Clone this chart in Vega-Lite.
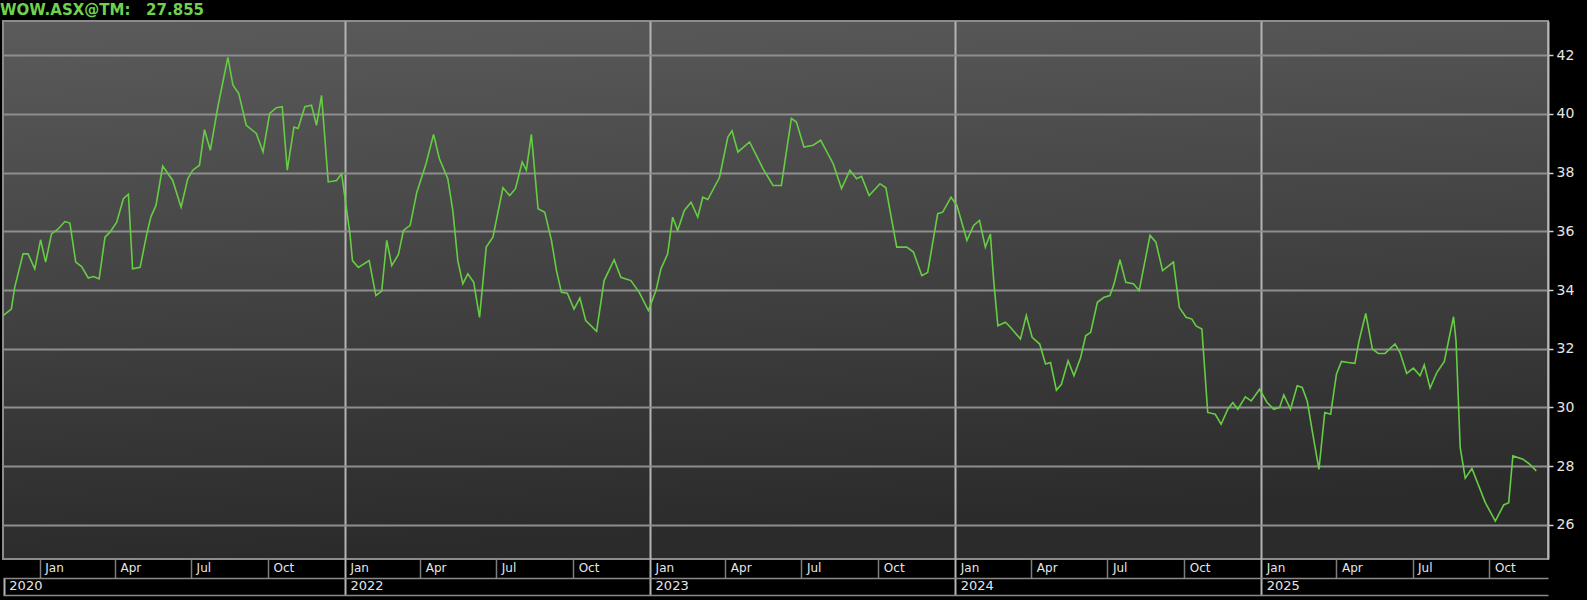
{
  "$schema": "https://vega.github.io/schema/vega-lite/v6.json",
  "autosize": "none",
  "width": 1545,
  "height": 538,
  "padding": {"left": 3, "top": 21, "right": 39, "bottom": 41},
  "background": "#000000",
  "view": {
    "stroke": "#8c8c8c",
    "strokeWidth": 2,
    "fill": {"gradient": "linear", "x1": 0, "y1": 0, "x2": 0.15, "y2": 1, "stops": [{"offset": 0, "color": "#5b5b5b"}, {"offset": 1, "color": "#2b2b2b"}]}
  },
  "title": {
    "text": "WOW.ASX@TM:\u00a0\u00a0\u00a027.855",
    "anchor": "start",
    "frame": "group",
    "color": "#6fd24f",
    "font": "DejaVu Sans",
    "fontSize": 15,
    "fontWeight": "bold",
    "offset": 3,
    "dx": -3
  },
  "data": {
    "values": [
      {"d": "2020-11-18", "v": 33.13}, {"d": "2020-11-28", "v": 33.35}, {"d": "2020-12-02", "v": 34.09}, {"d": "2020-12-12", "v": 35.23},
      {"d": "2020-12-18", "v": 35.23}, {"d": "2020-12-26", "v": 34.72}, {"d": "2021-01-02", "v": 35.71}, {"d": "2021-01-08", "v": 34.95},
      {"d": "2021-01-15", "v": 35.91}, {"d": "2021-01-23", "v": 36.08}, {"d": "2021-01-31", "v": 36.33}, {"d": "2021-02-06", "v": 36.28},
      {"d": "2021-02-13", "v": 34.95}, {"d": "2021-02-20", "v": 34.8}, {"d": "2021-02-28", "v": 34.41}, {"d": "2021-03-06", "v": 34.46},
      {"d": "2021-03-13", "v": 34.38}, {"d": "2021-03-20", "v": 35.8}, {"d": "2021-03-26", "v": 35.97}, {"d": "2021-04-03", "v": 36.31},
      {"d": "2021-04-11", "v": 37.11}, {"d": "2021-04-17", "v": 37.26}, {"d": "2021-04-22", "v": 34.72}, {"d": "2021-05-01", "v": 34.77},
      {"d": "2021-05-09", "v": 35.91}, {"d": "2021-05-14", "v": 36.5}, {"d": "2021-05-20", "v": 36.88}, {"d": "2021-05-28", "v": 38.22},
      {"d": "2021-06-09", "v": 37.73}, {"d": "2021-06-19", "v": 36.82}, {"d": "2021-06-27", "v": 37.79}, {"d": "2021-07-03", "v": 38.08},
      {"d": "2021-07-11", "v": 38.25}, {"d": "2021-07-17", "v": 39.46}, {"d": "2021-07-24", "v": 38.76}, {"d": "2021-08-02", "v": 40.24},
      {"d": "2021-08-14", "v": 41.92}, {"d": "2021-08-20", "v": 40.98}, {"d": "2021-08-27", "v": 40.69}, {"d": "2021-09-05", "v": 39.61},
      {"d": "2021-09-17", "v": 39.33}, {"d": "2021-09-25", "v": 38.7}, {"d": "2021-10-03", "v": 40.01}, {"d": "2021-10-11", "v": 40.21},
      {"d": "2021-10-18", "v": 40.24}, {"d": "2021-10-24", "v": 38.08}, {"d": "2021-11-01", "v": 39.55}, {"d": "2021-11-06", "v": 39.5},
      {"d": "2021-11-14", "v": 40.24}, {"d": "2021-11-22", "v": 40.29}, {"d": "2021-11-28", "v": 39.61}, {"d": "2021-12-04", "v": 40.63},
      {"d": "2021-12-12", "v": 37.68}, {"d": "2021-12-22", "v": 37.73}, {"d": "2021-12-28", "v": 37.96}, {"d": "2022-01-07", "v": 35.91},
      {"d": "2022-01-10", "v": 35.0}, {"d": "2022-01-17", "v": 34.77}, {"d": "2022-01-30", "v": 35.0}, {"d": "2022-02-07", "v": 33.81},
      {"d": "2022-02-14", "v": 33.96}, {"d": "2022-02-20", "v": 35.69}, {"d": "2022-02-26", "v": 34.83}, {"d": "2022-03-06", "v": 35.21},
      {"d": "2022-03-12", "v": 36.03}, {"d": "2022-03-20", "v": 36.2}, {"d": "2022-03-28", "v": 37.33}, {"d": "2022-04-08", "v": 38.3},
      {"d": "2022-04-17", "v": 39.3}, {"d": "2022-04-24", "v": 38.47}, {"d": "2022-05-04", "v": 37.79}, {"d": "2022-05-10", "v": 36.71},
      {"d": "2022-05-16", "v": 35.0}, {"d": "2022-05-22", "v": 34.21}, {"d": "2022-05-28", "v": 34.55}, {"d": "2022-06-04", "v": 34.26},
      {"d": "2022-06-11", "v": 33.07}, {"d": "2022-06-19", "v": 35.46}, {"d": "2022-06-27", "v": 35.8}, {"d": "2022-07-09", "v": 37.48},
      {"d": "2022-07-17", "v": 37.22}, {"d": "2022-07-24", "v": 37.45}, {"d": "2022-08-01", "v": 38.36}, {"d": "2022-08-06", "v": 38.08},
      {"d": "2022-08-12", "v": 39.3}, {"d": "2022-08-20", "v": 36.77}, {"d": "2022-08-28", "v": 36.65}, {"d": "2022-09-05", "v": 35.69},
      {"d": "2022-09-11", "v": 34.66}, {"d": "2022-09-17", "v": 33.92}, {"d": "2022-09-24", "v": 33.89}, {"d": "2022-10-02", "v": 33.35},
      {"d": "2022-10-09", "v": 33.73}, {"d": "2022-10-16", "v": 32.96}, {"d": "2022-10-29", "v": 32.59}, {"d": "2022-11-07", "v": 34.32},
      {"d": "2022-11-19", "v": 35.03}, {"d": "2022-11-27", "v": 34.43}, {"d": "2022-12-09", "v": 34.32}, {"d": "2022-12-19", "v": 33.92},
      {"d": "2022-12-30", "v": 33.3}, {"d": "2023-01-08", "v": 33.98}, {"d": "2023-01-14", "v": 34.72}, {"d": "2023-01-22", "v": 35.23},
      {"d": "2023-01-28", "v": 36.48}, {"d": "2023-02-03", "v": 36.03}, {"d": "2023-02-11", "v": 36.71}, {"d": "2023-02-19", "v": 36.99},
      {"d": "2023-02-27", "v": 36.48}, {"d": "2023-03-05", "v": 37.16}, {"d": "2023-03-11", "v": 37.08}, {"d": "2023-03-25", "v": 37.83},
      {"d": "2023-04-04", "v": 39.21}, {"d": "2023-04-09", "v": 39.42}, {"d": "2023-04-16", "v": 38.7}, {"d": "2023-04-30", "v": 39.04},
      {"d": "2023-05-16", "v": 38.13}, {"d": "2023-05-28", "v": 37.56}, {"d": "2023-06-07", "v": 37.56}, {"d": "2023-06-19", "v": 39.84},
      {"d": "2023-06-25", "v": 39.72}, {"d": "2023-07-04", "v": 38.87}, {"d": "2023-07-15", "v": 38.93}, {"d": "2023-07-24", "v": 39.1},
      {"d": "2023-08-08", "v": 38.3}, {"d": "2023-08-18", "v": 37.45}, {"d": "2023-08-28", "v": 38.08}, {"d": "2023-09-05", "v": 37.79},
      {"d": "2023-09-11", "v": 37.87}, {"d": "2023-09-20", "v": 37.22}, {"d": "2023-10-03", "v": 37.62}, {"d": "2023-10-10", "v": 37.48},
      {"d": "2023-10-23", "v": 35.46}, {"d": "2023-11-04", "v": 35.46}, {"d": "2023-11-12", "v": 35.29}, {"d": "2023-11-22", "v": 34.49},
      {"d": "2023-11-29", "v": 34.6}, {"d": "2023-12-11", "v": 36.6}, {"d": "2023-12-17", "v": 36.65}, {"d": "2023-12-27", "v": 37.16},
      {"d": "2024-01-03", "v": 36.88}, {"d": "2024-01-15", "v": 35.69}, {"d": "2024-01-23", "v": 36.2}, {"d": "2024-01-30", "v": 36.37},
      {"d": "2024-02-06", "v": 35.46}, {"d": "2024-02-12", "v": 35.91}, {"d": "2024-02-16", "v": 34.32}, {"d": "2024-02-21", "v": 32.78},
      {"d": "2024-03-01", "v": 32.9}, {"d": "2024-03-07", "v": 32.73}, {"d": "2024-03-19", "v": 32.33}, {"d": "2024-03-26", "v": 33.13},
      {"d": "2024-04-02", "v": 32.39}, {"d": "2024-04-11", "v": 32.16}, {"d": "2024-04-18", "v": 31.48}, {"d": "2024-04-24", "v": 31.53},
      {"d": "2024-05-01", "v": 30.59}, {"d": "2024-05-07", "v": 30.79}, {"d": "2024-05-15", "v": 31.59}, {"d": "2024-05-22", "v": 31.08},
      {"d": "2024-05-30", "v": 31.7}, {"d": "2024-06-05", "v": 32.44}, {"d": "2024-06-11", "v": 32.56}, {"d": "2024-06-19", "v": 33.58},
      {"d": "2024-06-27", "v": 33.75}, {"d": "2024-07-04", "v": 33.81}, {"d": "2024-07-09", "v": 34.21}, {"d": "2024-07-16", "v": 35.03},
      {"d": "2024-07-23", "v": 34.26}, {"d": "2024-08-01", "v": 34.21}, {"d": "2024-08-08", "v": 33.98}, {"d": "2024-08-21", "v": 35.86},
      {"d": "2024-08-28", "v": 35.63}, {"d": "2024-09-05", "v": 34.66}, {"d": "2024-09-18", "v": 34.95}, {"d": "2024-09-25", "v": 33.41},
      {"d": "2024-10-03", "v": 33.07}, {"d": "2024-10-10", "v": 33.01}, {"d": "2024-10-15", "v": 32.78}, {"d": "2024-10-22", "v": 32.67},
      {"d": "2024-10-29", "v": 29.83}, {"d": "2024-11-07", "v": 29.77}, {"d": "2024-11-14", "v": 29.43}, {"d": "2024-11-22", "v": 29.94},
      {"d": "2024-11-28", "v": 30.17}, {"d": "2024-12-04", "v": 29.94}, {"d": "2024-12-13", "v": 30.36}, {"d": "2024-12-20", "v": 30.22},
      {"d": "2024-12-30", "v": 30.62}, {"d": "2025-01-08", "v": 30.17}, {"d": "2025-01-16", "v": 29.94}, {"d": "2025-01-23", "v": 30.0},
      {"d": "2025-01-28", "v": 30.43}, {"d": "2025-02-05", "v": 29.94}, {"d": "2025-02-13", "v": 30.74}, {"d": "2025-02-19", "v": 30.68},
      {"d": "2025-02-25", "v": 30.22}, {"d": "2025-03-03", "v": 29.2}, {"d": "2025-03-11", "v": 27.89}, {"d": "2025-03-18", "v": 29.83},
      {"d": "2025-03-25", "v": 29.77}, {"d": "2025-04-01", "v": 31.14}, {"d": "2025-04-07", "v": 31.57}, {"d": "2025-04-15", "v": 31.53},
      {"d": "2025-04-23", "v": 31.5}, {"d": "2025-04-28", "v": 32.27}, {"d": "2025-05-06", "v": 33.2}, {"d": "2025-05-14", "v": 31.99},
      {"d": "2025-05-21", "v": 31.84}, {"d": "2025-05-29", "v": 31.84}, {"d": "2025-06-10", "v": 32.16}, {"d": "2025-06-16", "v": 31.87},
      {"d": "2025-06-24", "v": 31.16}, {"d": "2025-07-02", "v": 31.34}, {"d": "2025-07-10", "v": 31.08}, {"d": "2025-07-15", "v": 31.45},
      {"d": "2025-07-22", "v": 30.66}, {"d": "2025-07-30", "v": 31.19}, {"d": "2025-08-08", "v": 31.57}, {"d": "2025-08-19", "v": 33.09},
      {"d": "2025-08-22", "v": 32.27}, {"d": "2025-08-27", "v": 28.63}, {"d": "2025-09-02", "v": 27.59}, {"d": "2025-09-10", "v": 27.92},
      {"d": "2025-09-26", "v": 26.76}, {"d": "2025-10-08", "v": 26.13}, {"d": "2025-10-18", "v": 26.68}, {"d": "2025-10-24", "v": 26.76},
      {"d": "2025-10-29", "v": 28.35}, {"d": "2025-11-10", "v": 28.24}, {"d": "2025-11-18", "v": 28.07}, {"d": "2025-11-26", "v": 27.84}
    ]
  },
  "resolve": {"axis": {"x": "independent", "y": "independent"}},
  "layer": [
    {
      "mark": {"type": "line", "strokeOpacity": 0},
      "encoding": {
        "x": {
          "field": "d", "type": "temporal",
          "scale": {"domain": [{"year": 2020, "month": 11, "date": 18}, {"year": 2025, "month": 12, "date": 10}]},
          "axis": {
            "orient": "bottom", "title": null, "grid": true, "gridColor": "#b4b4b4", "gridWidth": 2,
            "ticks": false, "labels": false, "domain": false,
            "values": [{"year": 2022, "month": 1, "date": 1}, {"year": 2023, "month": 1, "date": 1}, {"year": 2024, "month": 1, "date": 1}, {"year": 2025, "month": 1, "date": 1}]
          }
        },
        "y": {"field": "v", "type": "quantitative", "scale": {"domain": [24.84, 43.16], "nice": false, "zero": false}, "axis": null}
      }
    },
    {
      "mark": {"type": "line", "strokeOpacity": 0},
      "encoding": {
        "x": {
          "field": "d", "type": "temporal",
          "axis": {
            "orient": "bottom", "title": null, "grid": false, "domain": false,
            "values": [
              {"year": 2021, "month": 1, "date": 1}, {"year": 2021, "month": 4, "date": 1}, {"year": 2021, "month": 7, "date": 1}, {"year": 2021, "month": 10, "date": 1},
              {"year": 2022, "month": 1, "date": 1}, {"year": 2022, "month": 4, "date": 1}, {"year": 2022, "month": 7, "date": 1}, {"year": 2022, "month": 10, "date": 1},
              {"year": 2023, "month": 1, "date": 1}, {"year": 2023, "month": 4, "date": 1}, {"year": 2023, "month": 7, "date": 1}, {"year": 2023, "month": 10, "date": 1},
              {"year": 2024, "month": 1, "date": 1}, {"year": 2024, "month": 4, "date": 1}, {"year": 2024, "month": 7, "date": 1}, {"year": 2024, "month": 10, "date": 1},
              {"year": 2025, "month": 1, "date": 1}, {"year": 2025, "month": 4, "date": 1}, {"year": 2025, "month": 7, "date": 1}, {"year": 2025, "month": 10, "date": 1}
            ],
            "format": "%b", "formatType": "time",
            "tickSize": 19,
            "tickColor": {"condition": {"test": "month(datum.value) == 0 && year(datum.value) > 2021", "value": "#b4b4b4"}, "value": "#7c7c7c"},
            "tickWidth": {"condition": {"test": "month(datum.value) == 0 && year(datum.value) > 2021", "value": 2}, "value": 1.5},
            "labelAlign": "left", "labelBaseline": "top", "labelPadding": -16, "labelOffset": 5,
            "labelColor": "#e6e6e6", "labelFont": "DejaVu Sans", "labelFontSize": 12, "labelOverlap": false, "labelFlush": false
          }
        },
        "y": {"field": "v", "type": "quantitative", "axis": null}
      }
    },
    {
      "mark": {"type": "line", "strokeOpacity": 0},
      "encoding": {
        "x": {
          "field": "d", "type": "temporal",
          "axis": {
            "orient": "bottom", "title": null, "grid": false, "offset": 19,
            "domain": true, "domainColor": "#8a8a8a", "domainWidth": 1.5,
            "values": [{"year": 2020, "month": 11, "date": 19}, {"year": 2022, "month": 1, "date": 1}, {"year": 2023, "month": 1, "date": 1}, {"year": 2024, "month": 1, "date": 1}, {"year": 2025, "month": 1, "date": 1}],
            "format": "%Y", "formatType": "time",
            "tickSize": 17, "tickColor": "#b4b4b4", "tickWidth": 2,
            "labelAlign": "left", "labelBaseline": "top", "labelPadding": -16, "labelOffset": 5,
            "labelColor": "#e6e6e6", "labelFont": "DejaVu Sans", "labelFontSize": 13, "labelOverlap": false, "labelFlush": false
          }
        },
        "y": {"field": "v", "type": "quantitative", "axis": null}
      }
    },
    {
      "mark": {"type": "line", "strokeOpacity": 0},
      "encoding": {
        "x": {
          "field": "d", "type": "temporal",
          "axis": {
            "orient": "bottom", "title": null, "grid": false, "offset": 36,
            "domain": true, "domainColor": "#8a8a8a", "domainWidth": 1.5,
            "ticks": false, "labels": false
          }
        },
        "y": {"field": "v", "type": "quantitative", "axis": null}
      }
    },
    {
      "mark": {"type": "line", "color": "#66cc44", "strokeWidth": 1.6},
      "encoding": {
        "x": {"field": "d", "type": "temporal", "axis": null},
        "y": {
          "field": "v", "type": "quantitative",
          "axis": {
            "orient": "right", "title": null, "values": [26, 28, 30, 32, 34, 36, 38, 40, 42],
            "grid": true, "gridColor": "#8e8e8e", "gridWidth": 2,
            "domain": true, "domainColor": "#b8b8b8", "domainWidth": 2,
            "tickSize": 5, "tickColor": "#cfcfcf", "tickWidth": 1.5,
            "labelPadding": 3, "labelColor": "#e6e6e6", "labelFont": "DejaVu Sans", "labelFontSize": 14
          }
        }
      }
    }
  ]
}
